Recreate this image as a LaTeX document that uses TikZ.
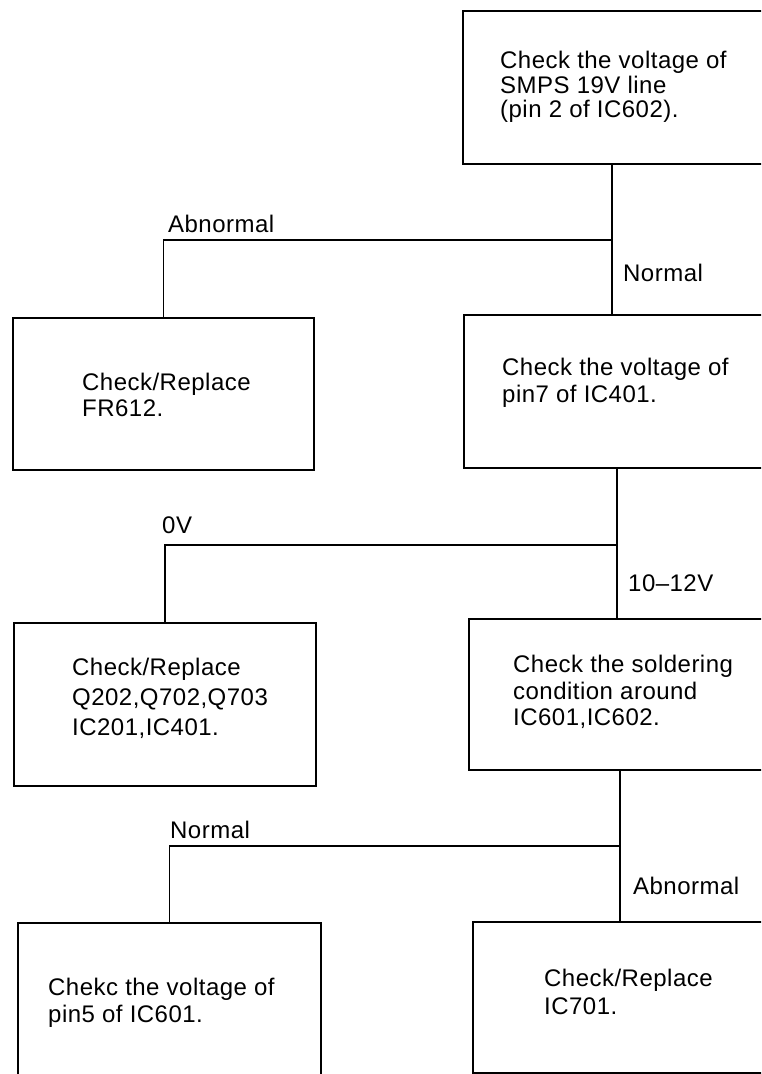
\documentclass[tikz,border=0pt]{standalone}
\usepackage{fontspec}
\setmainfont{Liberation Sans}[LetterSpace=2]
\begin{document}
\begin{tikzpicture}[x=1pt,y=-1pt,
  box/.style={draw=black,line width=1.8pt,inner sep=0pt,anchor=north west},
  txt/.style={inner sep=0pt,anchor=west,align=left},
  lab/.style={inner sep=0pt,anchor=west,font=\fontsize{24}{27}\selectfont},
  conn/.style={draw=black,line width=1.8pt}]
\useasboundingbox (0,0) rectangle (761,1074);
\fill[white] (0,0) rectangle (761,1074);
\clip (0,0) rectangle (761,1074);
% boxes
\node[box,minimum width=340pt,minimum height=153pt] (b1) at (462,10) {};
\node[box,minimum width=301pt,minimum height=152pt] (fr) at (12,317) {};
\node[box,minimum width=339pt,minimum height=153pt] (b2) at (463,314) {};
\node[box,minimum width=302pt,minimum height=163pt] (q) at (13,622) {};
\node[box,minimum width=334pt,minimum height=151pt] (b3) at (468,618) {};
\node[box,minimum width=303pt,minimum height=190pt] (b4) at (17,922) {};
\node[box,minimum width=330pt,minimum height=151pt] (b5) at (472,921) {};
% texts
\node[txt,font=\fontsize{24}{24.5}\selectfont] (t1) at (500,87) {Check the voltage of\\SMPS 19V line\\(pin 2 of IC602).};
\node[txt,font=\fontsize{24}{26.5}\selectfont] (tfr) at (82,395) {Check/Replace\\FR612.};
\node[txt,font=\fontsize{24}{26.5}\selectfont] (t2) at (502,383) {Check the voltage of\\pin7 of IC401.};
\node[txt,font=\fontsize{24}{30}\selectfont] (tq) at (72,698) {Check/Replace\\Q202,Q702,Q703\\IC201,IC401.};
\node[txt,font=\fontsize{24}{26.5}\selectfont] (t3) at (513,692) {Check the soldering\\condition around\\IC601,IC602.};
\node[txt,font=\fontsize{24}{27}\selectfont] (t4) at (48,1003) {Chekc the voltage of\\pin5 of IC601.};
\node[txt,font=\fontsize{24}{28.5}\selectfont] (t5) at (544,992) {Check/Replace\\IC701.};
% junctions
\coordinate (j1) at (612,240);
\coordinate (j2) at (617,545);
\coordinate (j3) at (620,846);
% connectors
\draw[conn] (b1.south -| j1) -- (b2.north -| j1);
\draw[conn] (j1) -| (fr.north);
\draw[conn] (b2.south -| j2) -- (b3.north -| j2);
\draw[conn] (j2) -| (q.north);
\draw[conn] (b3.south -| j3) -- (b5.north -| j3);
\draw[conn] (j3) -| (b4.north);
% labels
\node[lab] (l1) at (168,224) {Abnormal};
\node[lab] (l2) at (623,273) {Normal};
\node[lab] (l3) at (162,525) {0V};
\node[lab] (l4) at (628,583) {10--12V};
\node[lab] (l5) at (170,830) {Normal};
\node[lab] (l6) at (633,886) {Abnormal};
\end{tikzpicture}
\end{document}
